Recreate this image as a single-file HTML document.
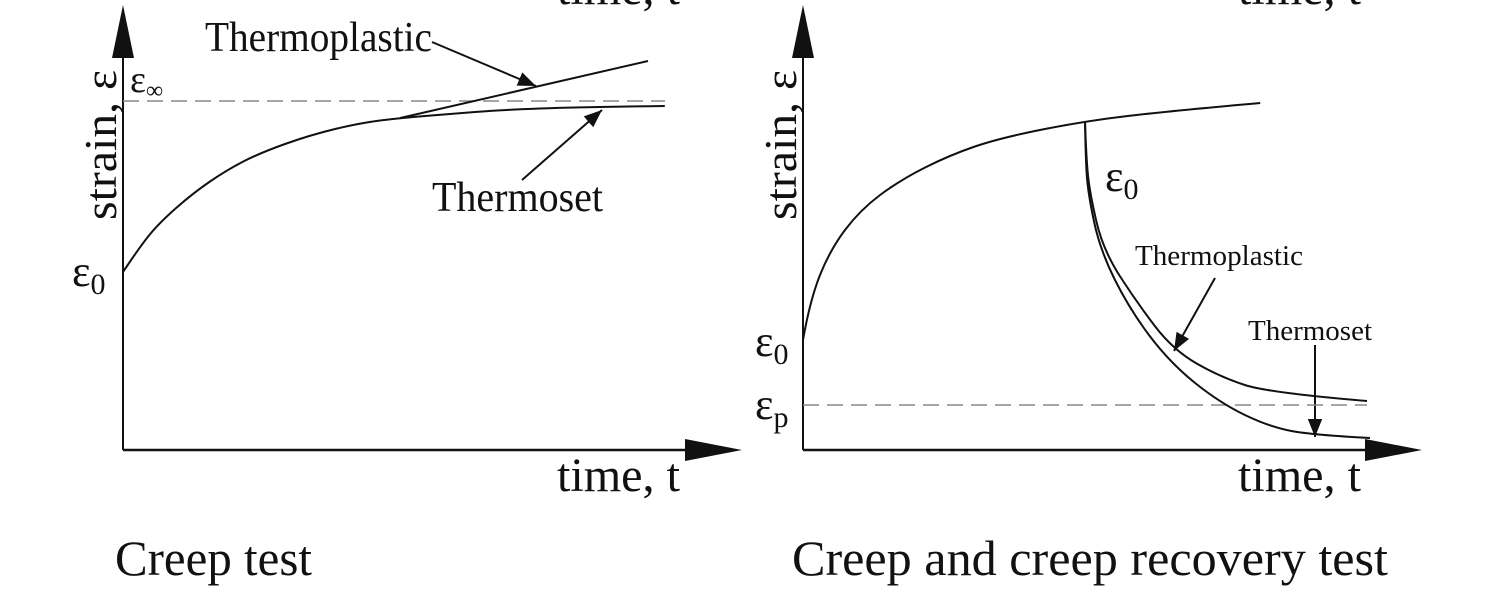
<!DOCTYPE html>
<html><head><meta charset="utf-8"><style>
html,body{margin:0;padding:0;background:#fff;}
svg{display:block;}
text{font-family:"Liberation Serif",serif;fill:#111;}
</style></head><body>
<svg id="fig" width="1493" height="596" viewBox="0 0 1493 596">
<defs>
<marker id="ah" viewBox="0 0 10 10" refX="10" refY="5" markerWidth="18" markerHeight="18" markerUnits="userSpaceOnUse" orient="auto"><path d="M0,1 L10,5 L0,9 z" fill="#111"/></marker>
</defs>
<g id="left">
  <line x1="123" y1="450" x2="123" y2="50" stroke="#111" stroke-width="2"/>
  <polygon points="123,5 112,58 134,58" fill="#111"/>
  <line x1="123" y1="450" x2="690" y2="450" stroke="#111" stroke-width="2.5"/>
  <polygon points="742,450 685,439 685,461" fill="#111"/>
  <text x="557" y="491" font-size="48" textLength="123" lengthAdjust="spacingAndGlyphs">time, t</text>
  <text x="557" y="4" font-size="48" textLength="123" lengthAdjust="spacingAndGlyphs">time, t</text>
  <text transform="translate(116,220) rotate(-90)" font-size="46" textLength="150" lengthAdjust="spacingAndGlyphs">strain, ε</text>
  <text x="130" y="92" font-size="38">ε<tspan font-size="24" dy="6">∞</tspan></text>
  <text x="72" y="286" font-size="44">ε<tspan font-size="30" dy="8">0</tspan></text>
  <text x="205" y="51" font-size="42" textLength="227" lengthAdjust="spacingAndGlyphs">Thermoplastic</text>
  <text x="432" y="211" font-size="42" textLength="171" lengthAdjust="spacingAndGlyphs">Thermoset</text>
  <text x="115" y="575" font-size="50" textLength="197" lengthAdjust="spacingAndGlyphs">Creep test</text>
  <line x1="432" y1="42" x2="536" y2="86" stroke="#111" stroke-width="2" marker-end="url(#ah)"/>
  <line x1="522" y1="180" x2="602" y2="110" stroke="#111" stroke-width="2" marker-end="url(#ah)"/>
</g>
<g id="right">
  <line x1="803" y1="450" x2="803" y2="50" stroke="#111" stroke-width="2"/>
  <polygon points="803,5 792,58 814,58" fill="#111"/>
  <line x1="803" y1="450" x2="1370" y2="450" stroke="#111" stroke-width="2.5"/>
  <polygon points="1422,450 1365,439 1365,461" fill="#111"/>
  <text x="1238" y="491" font-size="48" textLength="123" lengthAdjust="spacingAndGlyphs">time, t</text>
  <text x="1238" y="4" font-size="48" textLength="123" lengthAdjust="spacingAndGlyphs">time, t</text>
  <text transform="translate(796,220) rotate(-90)" font-size="46" textLength="150" lengthAdjust="spacingAndGlyphs">strain, ε</text>
  <text x="755" y="356" font-size="44">ε<tspan font-size="30" dy="8">0</tspan></text>
  <text x="755" y="419" font-size="44">ε<tspan font-size="30" dy="8">p</tspan></text>
  <text x="1105" y="191" font-size="44">ε<tspan font-size="30" dy="8">0</tspan></text>
  <text x="1135" y="265" font-size="29" textLength="168" lengthAdjust="spacingAndGlyphs">Thermoplastic</text>
  <text x="1248" y="340" font-size="29" textLength="124" lengthAdjust="spacingAndGlyphs">Thermoset</text>
  <text x="792" y="575" font-size="50" textLength="596" lengthAdjust="spacingAndGlyphs">Creep and creep recovery test</text>
  <line x1="1215" y1="278" x2="1174" y2="351" stroke="#111" stroke-width="2" marker-end="url(#ah)"/>
  <line x1="1315" y1="345" x2="1315" y2="437" stroke="#111" stroke-width="2" marker-end="url(#ah)"/>
</g>
</svg>
<script>
// Data (time units 0..10, strain units 0..10)
const leftCreepT = [0, 0.3, 0.62, 1.17, 1.73, 2.28, 3.12, 3.95, 4.62, 5.45, 6.28, 7.62, 9.03];
const leftCreepE = [4.45, 5.125, 5.7, 6.425, 7.0, 7.425, 7.875, 8.175, 8.3, 8.4, 8.5, 8.575, 8.6];
const leftPlasticT = [4.62, 8.75];
const leftPlasticE = [8.3, 9.725];
const epsInf = [8.725];
const rightCreepT = [0, 0.117, 0.45, 0.95, 1.62, 2.45, 3.28, 4.7, 6.12, 7.62];
const rightCreepE = [2.75, 3.75, 5.0, 6.0, 6.75, 7.375, 7.8, 8.225, 8.475, 8.675];
const recPlasticT = [4.7, 4.72, 4.78, 5.0, 5.57, 6.17, 6.95, 7.78, 9.4];
const recPlasticE = [8.225, 7.3, 6.425, 5.0, 3.675, 2.5, 1.825, 1.425, 1.225];
const recSetT = [4.7, 4.71, 4.75, 4.95, 5.45, 6.12, 6.95, 7.78, 8.5, 9.45];
const recSetE = [8.225, 7.3, 6.425, 5.0, 3.5, 2.175, 1.175, 0.575, 0.375, 0.3];
const epsP = [1.125];

const NS = "http://www.w3.org/2000/svg";
const yS = e => 450 - e * 40;
const xL = t => 123 + t * 60;
const xR = t => 803 + t * 60;

function smoothPath(xs, ys, xf) {
  const p = xs.map((t, i) => [xf(t), yS(ys[i])]);
  let d = "M" + p[0][0] + "," + p[0][1];
  if (p.length < 3) return d + " L" + p[1][0] + "," + p[1][1];
  for (let i = 1; i < p.length - 1; i++) {
    const last = i === p.length - 2;
    const ex = last ? p[i + 1][0] : (p[i][0] + p[i + 1][0]) / 2;
    const ey = last ? p[i + 1][1] : (p[i][1] + p[i + 1][1]) / 2;
    d += " Q" + p[i][0] + "," + p[i][1] + " " + ex + "," + ey;
  }
  return d;
}
function addPath(g, d) {
  const el = document.createElementNS(NS, "path");
  el.setAttribute("d", d);
  el.setAttribute("fill", "none");
  el.setAttribute("stroke", "#111");
  el.setAttribute("stroke-width", "2");
  g.appendChild(el);
  return el;
}
function addDash(g, y, x1, x2) {
  const el = document.createElementNS(NS, "line");
  el.setAttribute("x1", x1); el.setAttribute("x2", x2);
  el.setAttribute("y1", y); el.setAttribute("y2", y);
  el.setAttribute("stroke", "#888");
  el.setAttribute("stroke-width", "1.5");
  el.setAttribute("stroke-dasharray", "16 8");
  g.appendChild(el);
  return el;
}
const gl = document.getElementById("left"), gr = document.getElementById("right");
let el;
el = addDash(gl, yS(epsInf[0]), 123, 665);


el = addPath(gl, smoothPath(leftCreepT, leftCreepE, xL));


el = addPath(gl, smoothPath(leftPlasticT, leftPlasticE, xL));


el = addDash(gr, yS(epsP[0]), 803, 1367);


el = addPath(gr, smoothPath(rightCreepT, rightCreepE, xR));


el = addPath(gr, smoothPath(recPlasticT, recPlasticE, xR));


el = addPath(gr, smoothPath(recSetT, recSetE, xR));


el = addPath(gr, "M" + xR(recSetT[recSetT.length-1]) + "," + yS(recSetE[recSetE.length-1]) + " L1370," + yS(recSetE[recSetE.length-1]));


</script>
</body></html>
